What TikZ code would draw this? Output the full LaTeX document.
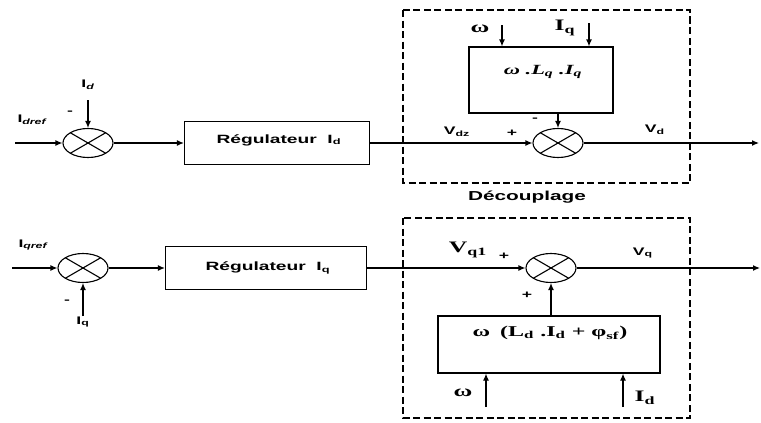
\documentclass[tikz,border=0pt]{standalone}
\usepackage{graphicx}
\usepackage{fontspec}
\setmainfont{Liberation Sans}
\newfontfamily\serif{Liberation Serif}
\newcommand{\wide}[1]{\scalebox{1.6}[1]{#1}}
\usepackage{tikz}
\usetikzlibrary{arrows.meta,shapes.geometric,positioning}

\begin{document}
\begin{tikzpicture}[x=1pt, y=-1pt, >={Latex[length=7pt,width=6pt]},
  every node/.style={font=\bfseries\fontsize{11}{13}\selectfont},
  sum/.style={draw, line width=1.1pt, ellipse, minimum width=50pt, minimum height=29pt, inner sep=0pt,
    path picture={\draw[line width=1.1pt] (path picture bounding box.north west) -- (path picture bounding box.south east)
      (path picture bounding box.south west) -- (path picture bounding box.north east);}},
  block/.style={draw, line width=1.2pt, rectangle, inner sep=0pt},
  frame/.style={draw, line width=1.6pt, dash pattern=on 7pt off 3.5pt},
  sig/.style={->, line width=1.2pt},
  big/.style={font=\serif\bfseries\fontsize{16}{18}\selectfont}]
  \useasboundingbox (0,0) rectangle (761,423);

  % axe d
  \node[sum] (sd) at (88,143) {};
  \node[block, minimum width=185pt, minimum height=43pt] (regd) at (277,143) {};
  \node[font=\bfseries\fontsize{12}{14}\selectfont] (regdt) at (279,140) {\wide{R\'egulateur\ \ I\textsubscript{d}}};
  \node[sum] (sd2) at (558,143) {};
  \node[block, minimum width=144pt, minimum height=66pt] (boxq) at (541,80) {};
  \node[font=\serif\bfseries\itshape\fontsize{14}{16}\selectfont] (fq) at (543,72)
    {\wide{ω .L\textsubscript{q} .I\textsubscript{q}}};
  \draw[frame] (403,10) rectangle (690,183);
  \node[font=\bfseries\fontsize{13}{15}\selectfont] (cpl) at (527,197) {\wide{D\'ecouplage}};

  \coordinate (idin) at (15,143);
  \coordinate (idtop) at (88,100);
  \coordinate (vdout) at (759,143);
  \coordinate (wq) at (502,25);
  \coordinate (iqq) at (589,23);
  \draw[sig] (idin) -- (sd);
  \draw[sig] (idtop) -- (sd);
  \draw[sig] (sd) -- (regd);
  \draw[sig] (regd) -- (sd2);
  \draw[sig] (sd2.north |- boxq.south) -- (sd2.north);
  \draw[sig] (sd2) -- (vdout);
  \draw[sig] (wq) -- (wq |- boxq.north);
  \draw[sig] (iqq) -- (iqq |- boxq.north);

  \node (idref) at (32,120) {\wide{I\textsubscript{\itshape dref}}};
  \node (idl) at (88,85) {\wide{I\textsubscript{\itshape d}}};
  \node (m1) at (70,113) {\wide{-}};
  \node (vdz) at (457,132) {\wide{V\textsubscript{dz}}};
  \node (p1) at (512,133) {\wide{+}};
  \node (m2) at (535,120) {\wide{-}};
  \node (vd) at (655,130) {\wide{V\textsubscript{d}}};
  \node[big] (wl1) at (480,29) {\wide{ω}};
  \node[big] (iql) at (565,28) {\wide{I\textsubscript{q}}};

  % axe q
  \node[sum] (sq) at (83,268) {};
  \node[block, minimum width=201pt, minimum height=43pt] (regq) at (266,268) {};
  \node[font=\bfseries\fontsize{12}{14}\selectfont] (regqt) at (268,268) {\wide{R\'egulateur\ \ I\textsubscript{q}}};
  \node[sum] (sq2) at (551,268) {};
  \node[block, minimum width=222pt, minimum height=57pt] (boxd) at (549,344.5) {};
  \draw[frame] (403,218) rectangle (690,418);

  \coordinate (iqin) at (12,268);
  \coordinate (iqbot) at (83,316);
  \coordinate (vqout) at (760,268);
  \coordinate (wd) at (486,407);
  \coordinate (idd) at (623,407);
  \draw[sig] (iqin) -- (sq);
  \draw[sig] (iqbot) -- (sq);
  \draw[sig] (sq) -- (regq);
  \draw[sig] (regq) -- (sq2);
  \draw[sig] (sq2.south |- boxd.north) -- (sq2.south);
  \draw[sig] (sq2) -- (vqout);
  \draw[sig] (wd) -- (wd |- boxd.south);
  \draw[sig] (idd) -- (idd |- boxd.south);

  \node (iqref) at (33,245) {\wide{I\textsubscript{\itshape qref}}};
  \node (m3) at (67,302) {\wide{-}};
  \node (iql2) at (83,322) {\wide{I\textsubscript{q}}};
  \node[big] (vq1) at (468,250) {\wide{V\textsubscript{q1}}};
  \node (p2) at (504,256) {\wide{+}};
  \node (vq) at (643,253) {\wide{V\textsubscript{q}}};
  \node (p3) at (527,295) {\wide{+}};
  \node[font=\serif\bfseries\fontsize{15}{17}\selectfont] (fd) at (550,333)
    {\wide{ω \,(L\textsubscript{d} .I\textsubscript{d} + φ\textsubscript{sf})}};
  \node[big] (wl2) at (463,393) {\wide{ω}};
  \node[big] (idl2) at (645,398) {\wide{I\textsubscript{d}}};
\end{tikzpicture}
\end{document}
